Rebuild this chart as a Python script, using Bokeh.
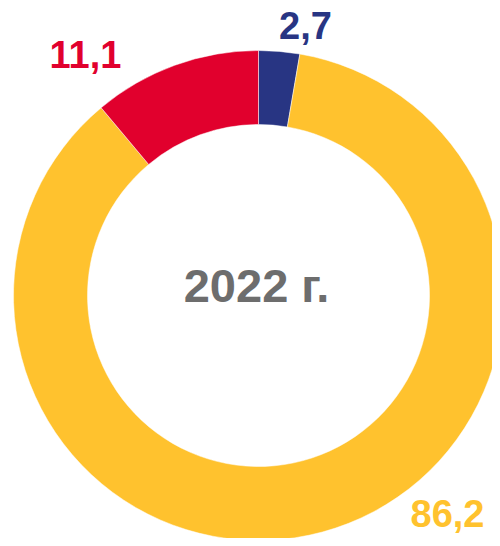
import math
from bokeh.plotting import figure
from bokeh.models import Range1d, ColumnDataSource
from bokeh.core.properties import value
from bokeh.embed import file_html
from bokeh.resources import INLINE

# Data
categories = ["Синий", "Жёлтый", "Красный"]
shares = [2.7, 86.2, 11.1]
labels = ["2,7", "86,2", "11,1"]
colors = ["#283583", "#FFC22E", "#E1002D"]
center_title = "2022 г."

# Layout (picture pixel coordinates; y measured upward from 546)
W, H = 492, 538
TOP = 546
cx, cy = 258, TOP - 295
r_out, r_in = 245, 171

total = sum(shares)
starts, ends = [], []
acc = 0.0
for s in shares:
    a0 = math.pi / 2 - 2 * math.pi * acc / total
    acc += s
    a1 = math.pi / 2 - 2 * math.pi * acc / total
    starts.append(a0)
    ends.append(a1)

src = ColumnDataSource(dict(cat=categories, start=starts, end=ends, color=colors))

p = figure(width=W, height=H, output_backend="svg", toolbar_location=None,
           x_range=Range1d(0, W), y_range=Range1d(TOP - H, TOP),
           min_border=0)
p.axis.visible = False
p.grid.visible = False
p.outline_line_color = None
p.background_fill_color = "white"
p.border_fill_color = "white"

p.annular_wedge(x=cx, y=cy, inner_radius=r_in, outer_radius=r_out,
                start_angle="start", end_angle="end", direction="clock",
                fill_color="color", line_color="white", line_width=0.5,
                source=src)

LFS = 38
CFS = 47
adj = 0.38  # baseline correction relative to font size


def ty(baseline, fs):
    return TOP - baseline + adj * fs


label_pos = [(305, 39), (447, 527), (85, 68)]
lsrc = ColumnDataSource(dict(x=[q[0] for q in label_pos],
                             y=[ty(q[1], LFS) for q in label_pos],
                             text=labels, color=colors))
p.text(x="x", y="y", text="text", text_color="color", source=lsrc,
       text_font=value("Liberation Sans"), text_font_style="bold",
       text_font_size=f"{LFS}px", text_align="center", text_baseline="alphabetic")

p.text(x=[256], y=[ty(303, CFS)], text=[center_title], text_color="#6D6D6D",
       text_font=value("Liberation Sans"), text_font_style="bold",
       text_font_size=f"{CFS}px", text_align="center", text_baseline="alphabetic")

open("out.html", "w").write(file_html(p, INLINE))
